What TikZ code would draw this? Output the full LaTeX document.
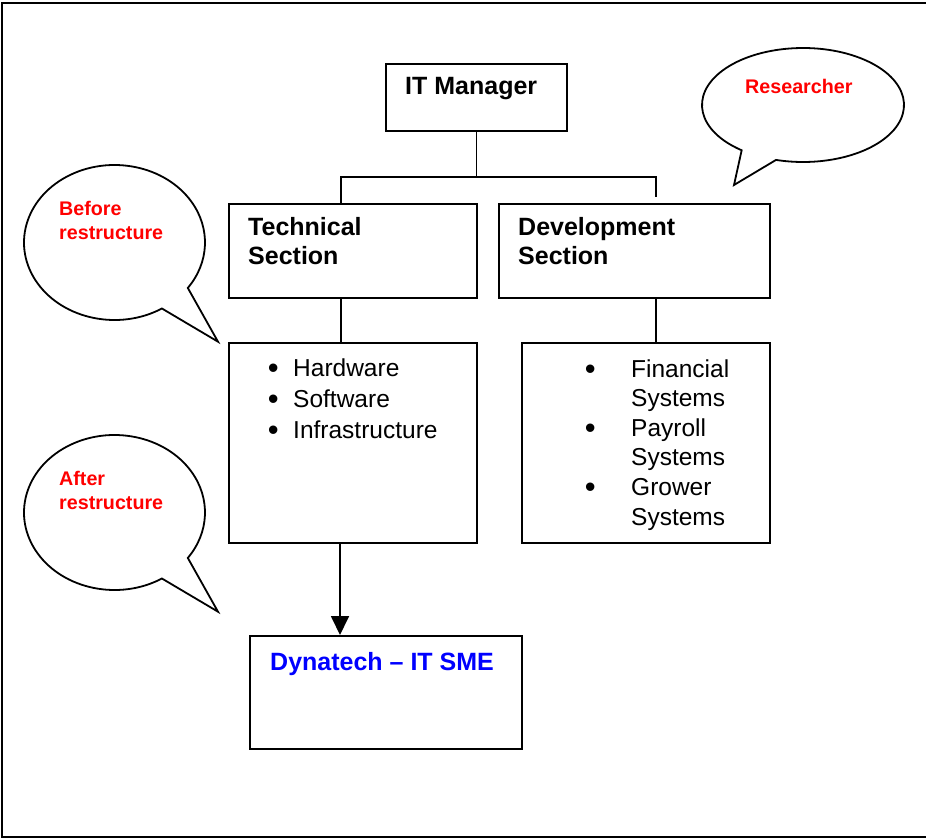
\documentclass[tikz,border=0pt]{standalone}
\usepackage{fontspec}
\setmainfont{Liberation Sans}
\usetikzlibrary{arrows.meta,calc}
\definecolor{callred}{RGB}{255,0,0}
\definecolor{smeblue}{RGB}{0,0,255}
\newcommand\itembullet{\raisebox{-2.5pt}{\fontsize{31}{31}\selectfont •}}

\begin{document}
\begin{tikzpicture}[x=1pt,y=-1pt,
  box/.style={draw, line width=1.8pt, inner sep=0pt, anchor=north west},
  conn/.style={line width=1.8pt},
  bubble/.style={draw, line width=1.8pt, line join=miter},
  head/.style={anchor=base west, inner sep=0pt, font=\fontsize{25}{29.5}\selectfont\bfseries},
  note/.style={anchor=base west, inner sep=0pt, text=callred, font=\fontsize{19.7}{23.6}\selectfont\bfseries},
  items/.style={anchor=base west, inner sep=0pt, font=\fontsize{24.5}{31.1}\selectfont}]

\useasboundingbox (0,0) rectangle (926,840);

% page frame (open on the right)
\coordinate (frameTR) at (926,3);
\coordinate (frameTL) at (1.5,3);
\coordinate (frameBL) at (1.5,837);
\coordinate (frameBR) at (926,837);
\draw[line width=2pt] (frameTR) -- (frameTL) -- (frameBL) -- (frameBR);

% boxes
\node[box, minimum width=181pt, minimum height=67pt]  (mgr)      at (385,63)  {};
\node[box, minimum width=248pt, minimum height=94pt]  (tech)     at (228,203) {};
\node[box, minimum width=271pt, minimum height=94pt]  (dev)      at (498,203) {};
\node[box, minimum width=248pt, minimum height=200pt] (techlist) at (228,342) {};
\node[box, minimum width=248pt, minimum height=200pt] (devlist)  at (521,342) {};
\node[box, minimum width=272pt, minimum height=113pt] (sme)      at (249,635) {};

% box texts
\node[head] (mgrtext)  at (405,95)  {IT Manager};
\node[head] (techtext) at (248,235) {\begin{tabular}[t]{@{}l@{}}Technical\\Section\end{tabular}};
\node[head] (devtext)  at (518,235) {\begin{tabular}[t]{@{}l@{}}Development\\Section\end{tabular}};
\node[head, text=smeblue] (smetext) at (270,670) {Dynatech – IT SME};

\node[items] (techitems) at (267.6,376)
  {\begin{tabular}[t]{@{}p{25.4pt}@{}l@{}}\itembullet&Hardware\\\itembullet&Software\\\itembullet&Infrastructure\end{tabular}};
\node[items, font=\fontsize{24.5}{29.6}\selectfont] (devitems) at (584.6,377)
  {\begin{tabular}[t]{@{}p{46.4pt}@{}l@{}}\itembullet&Financial\\&Systems\\\itembullet&Payroll\\&Systems\\\itembullet&Grower\\&Systems\end{tabular}};

% org chart connectors
\coordinate (split)   at ($(mgr.south)+(0,45)$);
\coordinate (techtop) at ($(tech.north west)+(113,0)$);
\coordinate (devtop)  at ($(dev.north west)+(158,-6)$);
\draw[conn] (mgr.south) -- (split);
\draw[conn] (techtop) |- (split) -| (devtop);

\coordinate (tlin)  at ($(techlist.north west)+(113,0)$);
\coordinate (dlin)  at ($(devlist.north west)+(135,0)$);
\coordinate (smein) at ($(sme.north west)+(91,0)$);
\draw[conn] (tlin |- tech.south) -- (tlin);
\draw[conn] (dlin |- dev.south) -- (dlin);
\draw[conn, -{Triangle[width=18pt,length=19pt]}] (smein |- techlist.south) -- (smein);

% speech bubbles
\draw[bubble] (803,105) ++(127.4:101 and 57)
  arc[start angle=127.4, end angle=465.5, x radius=101, y radius=57] -- (734,185) -- cycle;
\draw[bubble] (114.5,242.5) ++(58.4:90.5 and 77.5)
  arc[start angle=58.4, end angle=395.9, x radius=90.5, y radius=77.5] -- (218,341.7) -- cycle;
\draw[bubble] (114.5,512.5) ++(58.4:90.5 and 77.5)
  arc[start angle=58.4, end angle=395.9, x radius=90.5, y radius=77.5] -- (218,611.7) -- cycle;

\node[note] (researcher) at (745,94) {Researcher};
\node[note] (before) at (59,215.7) {\begin{tabular}[t]{@{}l@{}}Before\\restructure\end{tabular}};
\node[note] (after)  at (59,485.7) {\begin{tabular}[t]{@{}l@{}}After\\restructure\end{tabular}};
\end{tikzpicture}
\end{document}
